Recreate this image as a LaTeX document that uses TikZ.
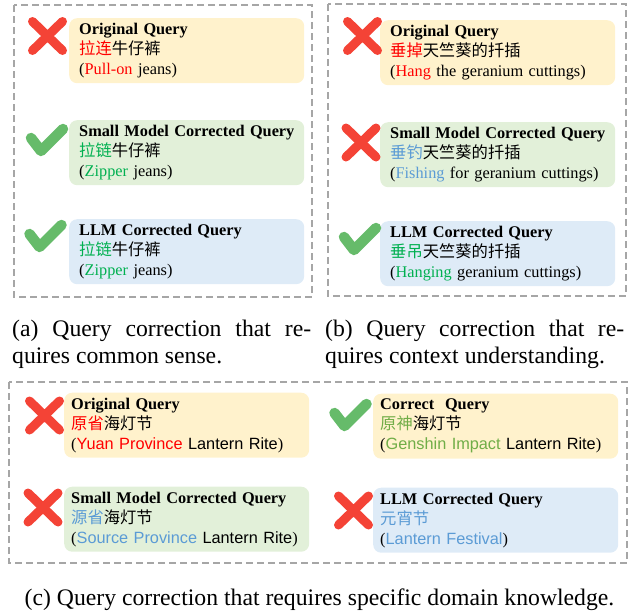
\documentclass[tikz,border=0pt]{standalone}
\usepackage{fontspec}
\setmainfont{Liberation Serif}
\newfontfamily\cjk{Noto Sans CJK SC}
\newfontfamily\arial{Liberation Sans}

\definecolor{origfill}{HTML}{FFF2CC}
\definecolor{smallfill}{HTML}{E2F0D9}
\definecolor{llmfill}{HTML}{DEEBF7}
\definecolor{wrongred}{HTML}{FF0000}
\definecolor{fixgreen}{HTML}{00B050}
\definecolor{missblue}{HTML}{5B9BD5}
\definecolor{gamegreen}{HTML}{70AD47}
\definecolor{iconred}{HTML}{F44336}
\definecolor{icongreen}{HTML}{66BB6A}

% box title, kept on one line
\newcommand{\qtitle}[1]{\mbox{\bfseries #1}}

\tikzset{
  panel/.style={draw=black!35, dash pattern=on 7pt off 4pt, line width=1.1pt},
  qbox/.style={rounded corners=8pt, anchor=north west, inner xsep=10pt, inner ysep=0pt,
    text width=215pt, minimum height=65pt, align=left, font=\fontsize{16.3}{20}\selectfont},
  qboxc/.style={qbox, inner xsep=7pt, text width=231pt},
  capt/.style={inner sep=0pt, anchor=north west, text width=299pt, align=justify,
    font=\fontsize{23.7}{27}\selectfont},
  wrongicon/.pic={\draw[iconred, line width=9pt, line cap=round]
    (-15,-14.5) -- (15,14.5) (-15,14.5) -- (15,-14.5);},
  righticon/.pic={\draw[icongreen, line width=10.5pt, line cap=round, line join=round]
    (-16,-2) -- (-6,11) -- (16,-11);},
}

\begin{document}
\begin{tikzpicture}[x=1pt, y=-1pt]
    \useasboundingbox (0,0) rectangle (639,614);
    % Dashed panels
    \draw[panel] (14,5) rectangle (312,297);
    \draw[panel] (328,4) rectangle (626,296);
    \draw[panel] (9,382) rectangle (627,563);
    % Panel (a): common sense
    \node[qbox, fill=origfill] (a1) at (69,18) {\qtitle{Original Query}\\
      {\cjk\textcolor{wrongred}{拉连}牛仔裤}\\
      (\textcolor{wrongred}{Pull-on} jeans)};
    \node[qbox, fill=smallfill] (a2) at (69,120) {\qtitle{Small Model Corrected Query}\\
      {\cjk\textcolor{fixgreen}{拉链}牛仔裤}\\
      (\textcolor{fixgreen}{Zipper} jeans)};
    \node[qbox, fill=llmfill] (a3) at (69,219) {\qtitle{LLM Corrected Query}\\
      {\cjk\textcolor{fixgreen}{拉链}牛仔裤}\\
      (\textcolor{fixgreen}{Zipper} jeans)};
    \pic (ia1) at (47.5,36) {wrongicon};
    \pic (ia2) at (47,140) {righticon};
    \pic (ia3) at (45.5,236) {righticon};
    % Panel (b): context understanding
    \node[qbox, fill=origfill] (b1) at (380,20) {\qtitle{Original Query}\\
      {\cjk\textcolor{wrongred}{垂掉}天竺葵的扦插}\\
      (\textcolor{wrongred}{Hang} the geranium cuttings)};
    \node[qbox, fill=smallfill] (b2) at (380,122) {\qtitle{Small Model Corrected Query}\\
      {\cjk\textcolor{missblue}{垂钓}天竺葵的扦插}\\
      (\textcolor{missblue}{Fishing} for geranium cuttings)};
    \node[qbox, fill=llmfill] (b3) at (380,221) {\qtitle{LLM Corrected Query}\\
      {\cjk\textcolor{fixgreen}{垂吊}天竺葵的扦插}\\
      (\textcolor{fixgreen}{Hanging} geranium cuttings)};
    \pic (ib1) at (362.5,36) {wrongicon};
    \pic (ib2) at (361,142.5) {wrongicon};
    \pic (ib3) at (360,239) {righticon};
    % Panel (c): domain knowledge
    \node[qboxc, fill=origfill] (c1) at (64,392.5) {\qtitle{Original Query}\\
      {\cjk\textcolor{wrongred}{原省}海灯节}\\
      ({\arial\textcolor{wrongred}{Yuan Province} Lantern Rite})};
    \node[qboxc, fill=smallfill] (c2) at (64,486.5) {\qtitle{Small Model Corrected Query}\\
      {\cjk\textcolor{missblue}{源省}海灯节}\\
      ({\arial\textcolor{missblue}{Source Province} Lantern Rite})};
    \node[qboxc, fill=origfill] (c3) at (373,393.5) {\qtitle{Correct\ \ Query}\\
      {\cjk\textcolor{gamegreen}{原神}海灯节}\\
      ({\arial\textcolor{gamegreen}{Genshin Impact} Lantern Rite})};
    \node[qboxc, fill=llmfill] (c4) at (373,487.5) {\qtitle{LLM Corrected Query}\\
      {\cjk\textcolor{missblue}{元宵节}}\\
      ({\arial\textcolor{missblue}{Lantern Festival}})};
    \pic (ic1) at (44.5,415.5) {wrongicon};
    \pic (ic2) at (43,507.5) {wrongicon};
    \pic (ic3) at (350.5,415) {righticon};
    \pic (ic4) at (353.5,510.5) {wrongicon};
    % Captions
    \node[capt] (capa) at (12,319.5) {(a) Query correction that re-\linebreak quires common sense.};
    \node[capt] (capb) at (325,319.5) {(b) Query correction that re-\linebreak quires context understanding.};
    \node[capt, text width=, align=center, anchor=base] (capc) at (319.5,605)
      {(c) Query correction that requires specific domain knowledge.};
\end{tikzpicture}
\end{document}
